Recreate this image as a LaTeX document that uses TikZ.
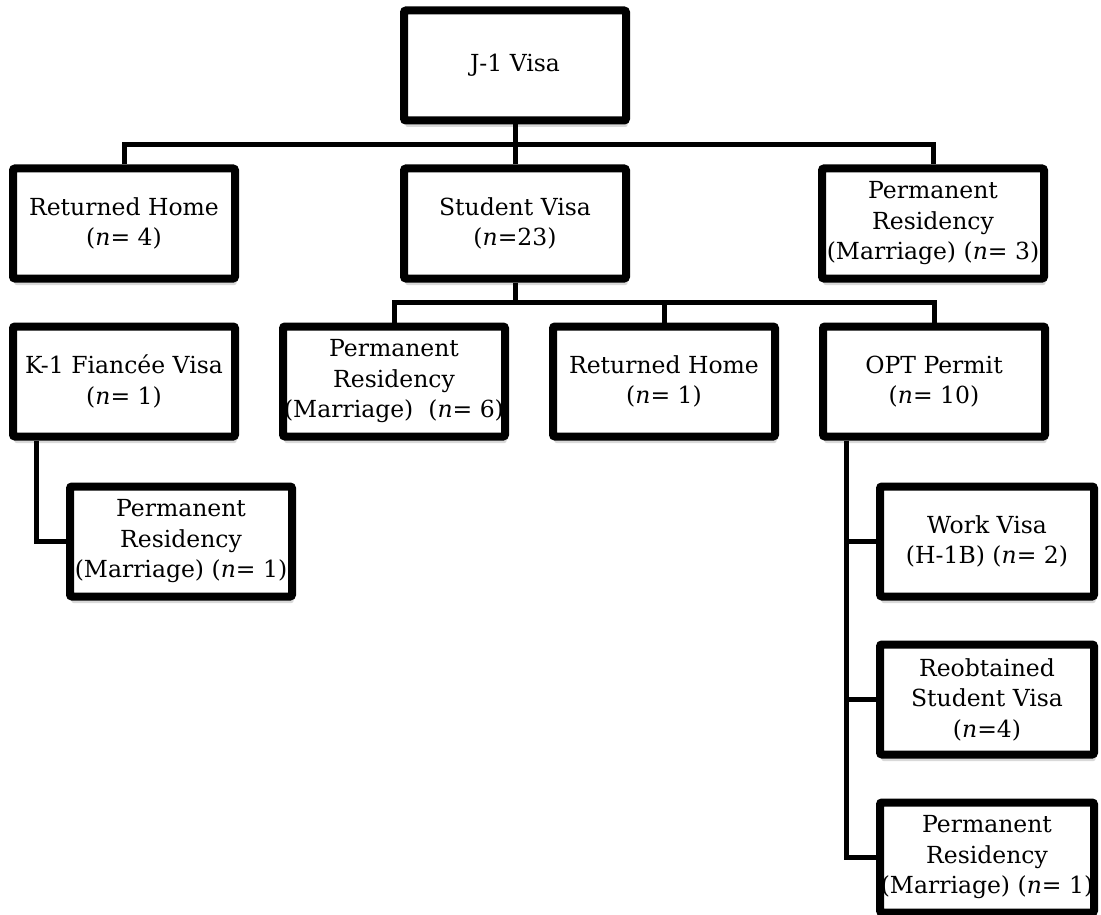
\documentclass[tikz,border=0pt]{standalone}
\usepackage{fontspec}
\setmainfont{DejaVu Serif}
\usepackage{tikz}
\usetikzlibrary{positioning,shadows,calc}

\begin{document}
\begin{tikzpicture}[
  node distance=40pt and 40pt,
  box/.style={draw, line width=8pt, rounded corners=2pt, fill=white, align=center,
              minimum width=222pt, minimum height=110pt, inner sep=0pt,
              font=\fontsize{23.5}{30.5}\selectfont,
              drop shadow={shadow xshift=1.5pt, shadow yshift=-6.5pt, fill=black!25, opacity=0.6}},
  sbox/.style={box, minimum width=214pt},
  link/.style={line width=5pt}
]
\useasboundingbox (0,0) rectangle (1101pt,-915pt);

% top level
\node[box] (j1) at (515pt,-65.5pt) {J-1 Visa};
\node[box, below=of j1] (stud) {Student Visa\\(\textit{n}=23)};
\node[box, left=161pt of stud] (rh) {Returned Home\\(\textit{n}= 4)};
\node[box, right=188pt of stud] (prm) {Permanent\\Residency\\(Marriage) (\textit{n}= 3)};

% second row
\node[box, below=of rh] (k1) {K-1 Fiancée Visa\\(\textit{n}= 1)};
\node[box, right=of k1] (pr6) {Permanent\\Residency\\(Marriage)~~(\textit{n}= 6)};
\node[box, right=of pr6] (rh1) {Returned Home\\(\textit{n}= 1)};
\node[box, right=of rh1] (opt) {OPT Permit\\(\textit{n}= 10)};

% third level
\node[box, below=42pt of k1, xshift=57pt] (pr1) {Permanent\\Residency\\(Marriage) (\textit{n}= 1)};
\node[sbox, below=42pt of opt, xshift=53pt] (wv) {Work Visa\\(H-1B) (\textit{n}= 2)};
\node[sbox, below=of wv] (reob) {Reobtained\\Student Visa\\(\textit{n}=4)};
\node[sbox, below=of reob] (pr1b) {Permanent\\Residency\\(Marriage) (\textit{n}= 1)};

\begin{scope}[on background layer/.try]
\draw[link] (j1.south) -- ++(0,-20pt) coordinate (bus1);
\draw[link] (rh.north) |- (bus1) -| (prm.north);
\draw[link] (bus1) -- (stud.north);
\draw[link] (stud.south) -- ++(0,-20pt) coordinate (bus2);
\draw[link] (pr6.north) |- (bus2) -| (opt.north);
\draw[link] (rh1.north) -- (rh1.north |- bus2);
\draw[link] ([xshift=27pt]k1.south west) |- (pr1.west);
\draw[link] ([xshift=27pt]opt.south west) |- (wv.west);
\draw[link] ([xshift=27pt]opt.south west) |- (reob.west);
\draw[link] ([xshift=27pt]opt.south west) |- (pr1b.west);
\end{scope}
\end{tikzpicture}
\end{document}
